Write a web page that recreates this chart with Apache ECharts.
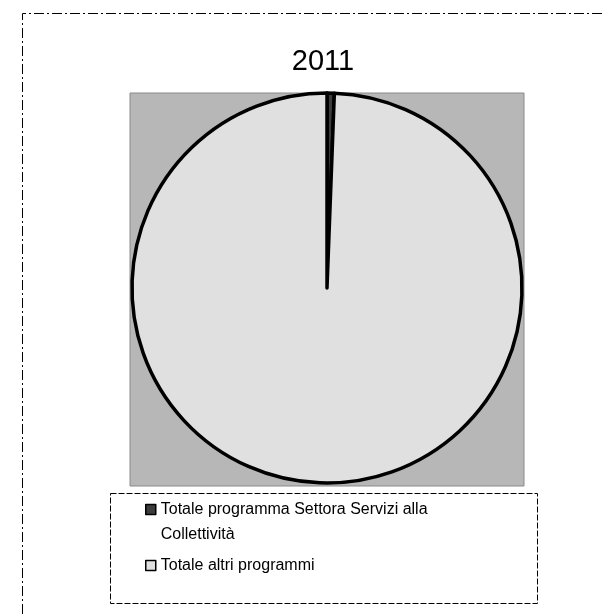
<!DOCTYPE html>
<html><head><meta charset="utf-8">
<script src="https://cdn.jsdelivr.net/npm/echarts@6/dist/echarts.min.js"></script>
<style>html,body{margin:0;padding:0;background:#fff}#c{width:604px;height:614px}</style>
</head><body><div id="c"></div>
<script>
const title = '2011';
const categories = ['Totale programma Settora Servizi alla\nCollettività', 'Totale altri programmi'];
const values = [0.6, 99.4];
const colors = ['#3c3c3c', '#e0e0e0'];

const legendText = {fontFamily: 'Liberation Sans', fontSize: 16, color: '#000', lineHeight: 25};
const chart = echarts.init(document.getElementById('c'), null, {renderer: 'canvas'});
chart.setOption({
  animation: false,
  backgroundColor: '#fff',
  title: {text: title, left: 318, top: 42, textAlign: 'center',
    textStyle: {fontFamily: 'Liberation Sans', fontSize: 29, fontWeight: 'normal', color: '#000'}},
  graphic: [
    {type: 'rect', shape: {x: 130, y: 93, width: 394, height: 393}, style: {fill: '#b7b7b7', stroke: '#8a8a8a', lineWidth: 1}, z: -10},
    {type: 'rect', shape: {x: 110.5, y: 493.5, width: 427, height: 110}, style: {fill: '#fff', stroke: '#000', lineWidth: 1, lineDash: [6, 2]}, z: -10},
    {type: 'polyline', shape: {points: [[22.5, 614], [22.5, 13.5], [604, 13.5]]}, style: {fill: null, stroke: '#000', lineWidth: 1, lineDash: [10, 3, 2, 3]}, z: -10}
  ],
  legend: [{
    orient: 'vertical', left: 145, top: 472, padding: 0, itemWidth: 10, itemHeight: 10,
    icon: 'rect', itemStyle: {borderColor: '#000', borderWidth: 1.5},
    formatter: n => '\n' + n,
    textStyle: legendText,
    data: [categories[0]]
  }, {
    orient: 'vertical', left: 145, top: 553, padding: 0, itemWidth: 10, itemHeight: 10,
    icon: 'rect', itemStyle: {borderColor: '#000', borderWidth: 1.5},
    textStyle: legendText,
    data: [categories[1]]
  }],
  series: [{
    type: 'pie', center: [327, 288], radius: 195, startAngle: 90, clockwise: true,
    label: {show: false}, labelLine: {show: false}, emphasis: {disabled: true},
    itemStyle: {borderColor: '#000', borderWidth: 3.5},
    data: categories.map((n, i) => ({name: n, value: values[i], itemStyle: {color: colors[i]}}))
  }]
});
</script></body></html>
